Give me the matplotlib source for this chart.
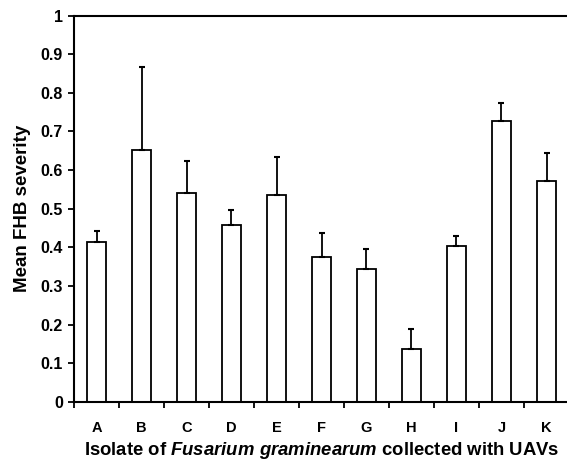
import matplotlib.pyplot as plt
import numpy as np

plt.rcParams['font.family'] = ['Liberation Sans', 'DejaVu Sans']
plt.rcParams['font.weight'] = 'bold'
plt.rcParams['mathtext.fontset'] = 'custom'
plt.rcParams['mathtext.it'] = 'Liberation Sans:italic:bold'
plt.rcParams['mathtext.rm'] = 'Liberation Sans:bold'

isolates = ['A', 'B', 'C', 'D', 'E', 'F', 'G', 'H', 'I', 'J', 'K']
severity = [0.415, 0.653, 0.540, 0.457, 0.535, 0.375, 0.344, 0.137, 0.404, 0.728, 0.573]
upper_err = [0.027, 0.213, 0.083, 0.039, 0.100, 0.063, 0.052, 0.052, 0.025, 0.046, 0.071]
y_ticks = [0, 0.1, 0.2, 0.3, 0.4, 0.5, 0.6, 0.7, 0.8, 0.9, 1]
y_tick_labels = ['0', '0.1', '0.2', '0.3', '0.4', '0.5', '0.6', '0.7', '0.8', '0.9', '1']

fig = plt.figure(figsize=(5.67, 4.61), dpi=100)
ax = fig.add_axes([74 / 567, 1 - 402 / 461, 495 / 567, 386.5 / 461])

x = np.arange(len(isolates))
ax.bar(x, severity, width=0.42, color='white', edgecolor='black', linewidth=1.3,
       yerr=[np.zeros(len(upper_err)), upper_err],
       error_kw=dict(ecolor='black', elinewidth=1.3, capsize=2.5, capthick=1.5))

ax.set_xlim(-0.5, len(isolates) - 0.5)
ax.set_ylim(0, 1)
ax.set_yticks(y_ticks)
ax.set_yticklabels(y_tick_labels, fontsize=11.5, fontweight='bold')

# category labels at centres, tick marks at the boundaries
ax.set_xticks(x)
ax.set_xticklabels(isolates, fontsize=10.5, fontweight='bold')
ax.tick_params(axis='x', which='major', length=0, pad=14)
ax.set_xticks(np.arange(-0.5, len(isolates)), minor=True)
ax.tick_params(axis='x', which='minor', length=4, width=1.3, direction='out')
ax.tick_params(axis='y', length=4, width=1.3, direction='out', pad=4)

for side in ['left', 'bottom', 'top']:
    ax.spines[side].set_linewidth(1.5)
ax.spines['right'].set_visible(False)

ax.set_ylabel('Mean FHB severity', fontsize=13.5, fontweight='bold', labelpad=7)
ax.set_xlabel(r'Isolate of $\mathit{Fusarium\ graminearum}$ collected with UAVs',
              fontsize=13.3, fontweight='bold', labelpad=3)

fig.savefig('out.png', dpi=100)
